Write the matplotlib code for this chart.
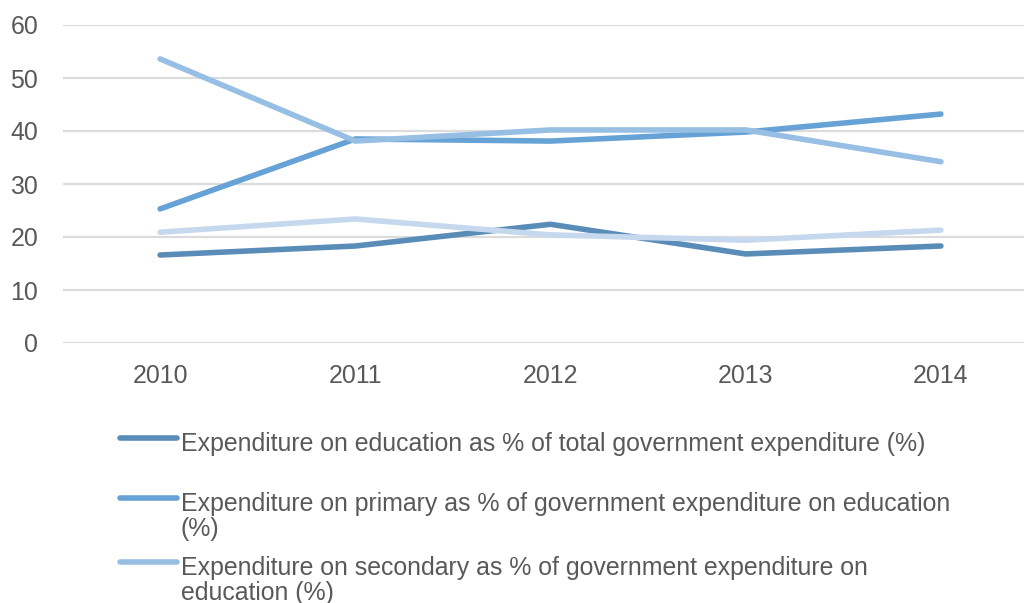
import matplotlib.pyplot as plt
from matplotlib.lines import Line2D

years = ["2010", "2011", "2012", "2013", "2014"]
edu_total = [16.6, 18.3, 22.4, 16.8, 18.3]
primary = [25.3, 38.5, 38.1, 39.8, 43.2]
secondary = [53.6, 38.1, 40.2, 40.2, 34.2]
tertiary = [20.9, 23.4, 20.4, 19.4, 21.3]

labels = [
    "Expenditure on education as % of total government expenditure (%)",
    "Expenditure on primary as % of government expenditure on education\n(%)",
    "Expenditure on secondary as % of government expenditure on\neducation (%)",
]
colors = ["#5A8CB8", "#66A2D5", "#97BEE3", "#C6D8EE"]

plt.rcParams["font.family"] = ["Liberation Sans", "DejaVu Sans"]

W, H = 1024, 603
fig = plt.figure(figsize=(W / 100, H / 100), dpi=100)
ax = fig.add_axes([62.5 / W, 1 - 343 / H, 976 / W, 318 / H])

x = range(len(years))
for vals, c in zip([edu_total, primary, secondary, tertiary], colors):
    ax.plot(x, vals, color=c, lw=4, solid_capstyle="round", solid_joinstyle="round")

ax.set_xlim(-0.5, 4.5)
ax.set_ylim(0, 60)
ax.set_yticks(range(0, 61, 10))
ax.set_xticks(list(x))
ax.set_xticklabels(years)
ax.grid(axis="y", color="#DCDCDC", lw=1.6)
ax.set_axisbelow(True)
for s in ax.spines.values():
    s.set_visible(False)
ax.tick_params(length=0, labelsize=17.9, labelcolor="#595959")
ax.tick_params(axis="y", pad=17.5)
ax.tick_params(axis="x", pad=15)

# legend drawn by hand so the key line sits on the first text line
handle_y = [438, 498, 562]
for lab, c, hy in zip(labels, colors, handle_y):
    fig.add_artist(Line2D([120 / W, 177 / W], [1 - hy / H, 1 - hy / H], color=c, lw=4,
                          solid_capstyle="round"))
    fig.text(181 / W, 1 - (hy - 6) / H, lab, fontsize=17.9, color="#595959",
             va="top", ha="left", linespacing=1.05)

fig.savefig("out.png", dpi=100)
